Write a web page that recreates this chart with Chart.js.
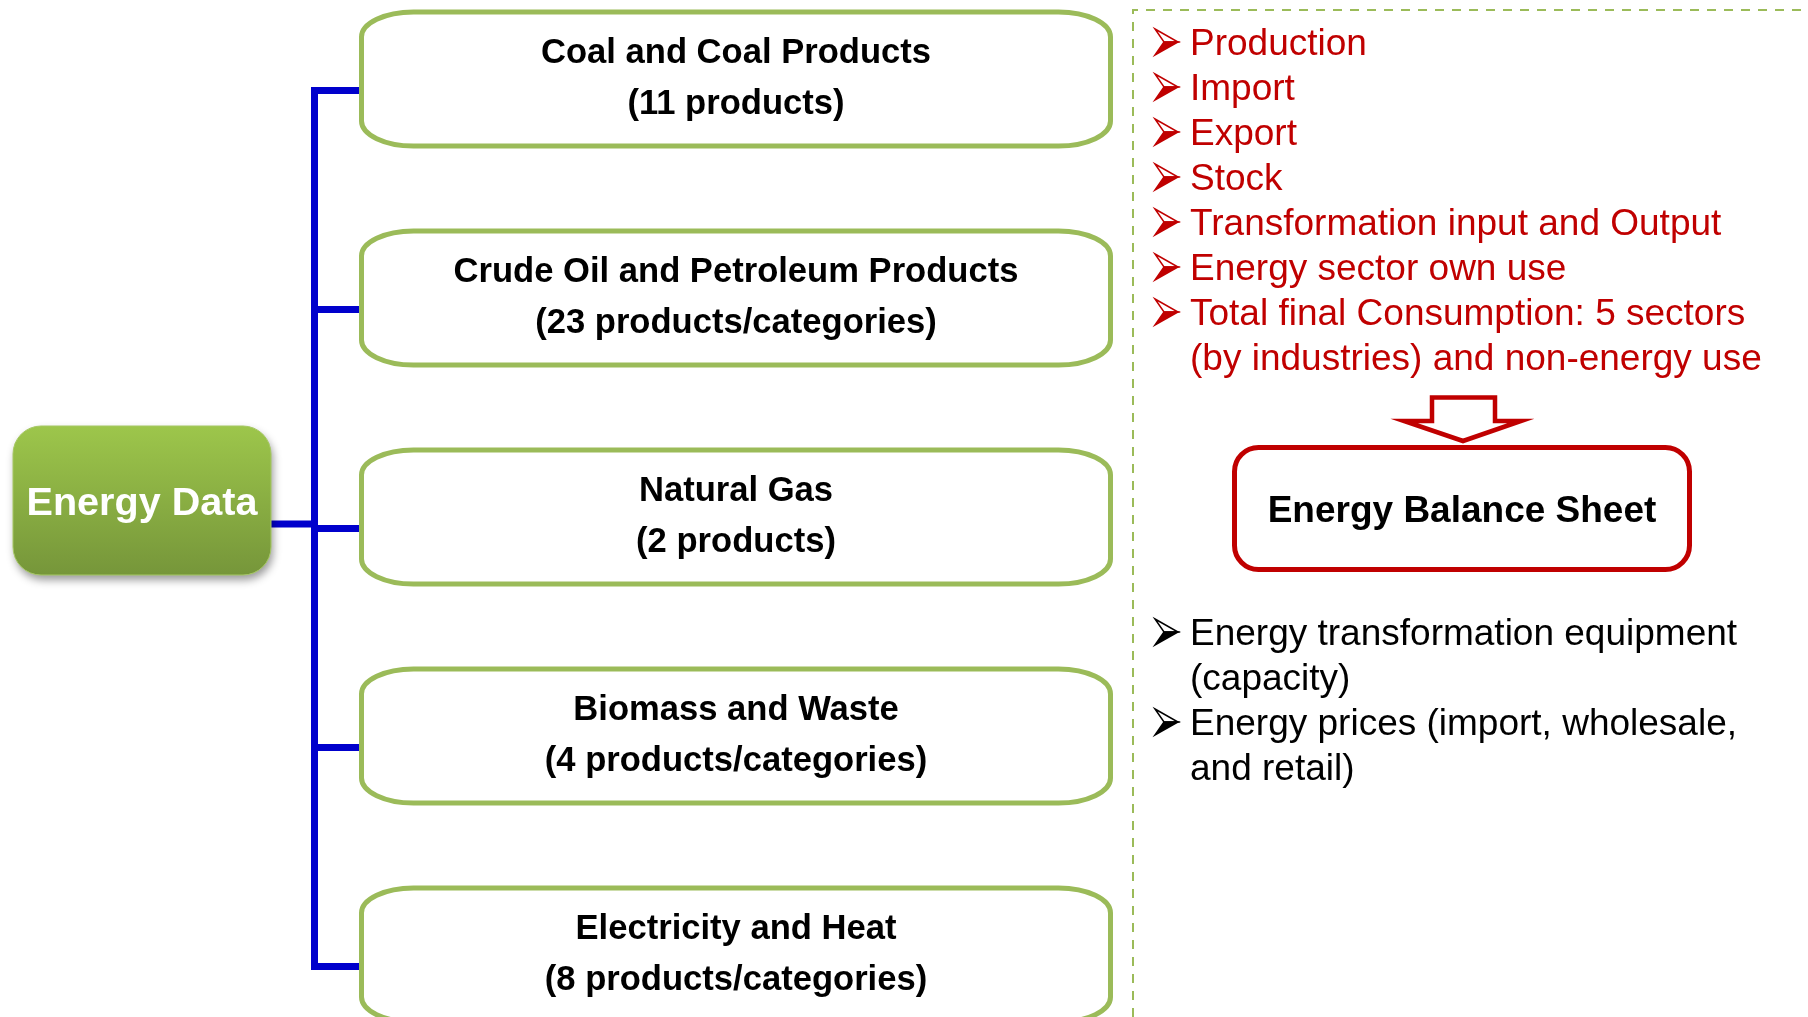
<!DOCTYPE html>
<html>
<head>
<meta charset="utf-8">
<title>Energy Data</title>
<script src="https://cdn.jsdelivr.net/npm/chart.js@4.4.1/dist/chart.umd.min.js"></script>
<style>
  html, body { margin: 0; padding: 0; background: #fff; overflow: hidden; }
  #wrap { width: 1808px; height: 1017px; position: relative; }
</style>
</head>
<body>
<div id="wrap"><canvas id="energyChart"></canvas></div>
<script>
// Energy data categories (left tree)
const rootLabel = 'Energy Data';
const categories = [
    'Coal and Coal Products',
    'Crude Oil and Petroleum Products',
    'Natural Gas',
    'Biomass and Waste',
    'Electricity and Heat'
];
const productCounts = [11, 23, 2, 4, 8];
const countUnits = ['products', 'products/categories', 'products', 'products/categories', 'products/categories'];

// Right panel texts
const flowItems = [
    ['Production'],
    ['Import'],
    ['Export'],
    ['Stock'],
    ['Transformation input and Output'],
    ['Energy sector own use'],
    ['Total final Consumption: 5 sectors', '(by industries) and non-energy use']
];
const targetLabel = 'Energy Balance Sheet';
const extraItems = [
    ['Energy transformation equipment', '(capacity)'],
    ['Energy prices (import, wholesale,', 'and retail)']
];

const FONT = "'Liberation Sans', Arial, sans-serif";
const GREEN = '#9BBB59';
const BLUE = '#0000CC';
const RED = '#C00000';

// rounded box with elliptical corners
function roundBox(ctx, x0, y0, x1, y1, rx, ry) {
    ctx.beginPath();
    ctx.moveTo(x0 + rx, y0);
    ctx.lineTo(x1 - rx, y0);
    ctx.ellipse(x1 - rx, y0 + ry, rx, ry, 0, -Math.PI / 2, 0);
    ctx.lineTo(x1, y1 - ry);
    ctx.ellipse(x1 - rx, y1 - ry, rx, ry, 0, 0, Math.PI / 2);
    ctx.lineTo(x0 + rx, y1);
    ctx.ellipse(x0 + rx, y1 - ry, rx, ry, 0, Math.PI / 2, Math.PI);
    ctx.lineTo(x0, y0 + ry);
    ctx.ellipse(x0 + rx, y0 + ry, rx, ry, 0, Math.PI, Math.PI * 1.5);
    ctx.closePath();
}

// wingdings style arrow bullet
function bullet(ctx, x, y, color) {
    const l = x, r = x + 23, t = y - 13, b = y + 13, n = x + 9;
    ctx.save();
    ctx.fillStyle = color;
    ctx.strokeStyle = color;
    ctx.lineWidth = 1.5;
    ctx.beginPath();
    ctx.moveTo(l, t); ctx.lineTo(r, y); ctx.lineTo(n, y); ctx.closePath();
    ctx.stroke();
    ctx.beginPath();
    ctx.moveTo(n, y); ctx.lineTo(r, y); ctx.lineTo(l, b); ctx.closePath();
    ctx.fill();
    ctx.stroke();
    ctx.restore();
}

const diagramPlugin = {
    id: 'energyDiagram',
    afterDraw(chart) {
        const ctx = chart.ctx;
        const xs = chart.scales.x, ys = chart.scales.y;
        const px = v => xs.getPixelForValue(v);
        const py = v => ys.getPixelForValue(v);

        const rowTop = 79, rowStep = 219, halfH = 67;
        const boxL = 361.5, boxR = 1110.5;
        const trunkX = 314.5;

        ctx.save();

        // blue tree lines
        ctx.strokeStyle = BLUE;
        ctx.lineWidth = 7;
        ctx.lineCap = 'butt';
        const firstBranch = rowTop + 11.5;
        const lastBranch = rowTop + rowStep * (categories.length - 1) + 11.5;
        ctx.beginPath();
        ctx.moveTo(px(trunkX), py(firstBranch - 3.5));
        ctx.lineTo(px(trunkX), py(lastBranch + 3.5));
        ctx.stroke();
        categories.forEach((c, i) => {
            const by = rowTop + rowStep * i + 11.5;
            ctx.beginPath();
            ctx.moveTo(px(trunkX - 3.5), py(by));
            ctx.lineTo(px(boxL), py(by));
            ctx.stroke();
        });
        ctx.beginPath();
        ctx.moveTo(px(268), py(524));
        ctx.lineTo(px(trunkX), py(524));
        ctx.stroke();

        // category boxes
        categories.forEach((c, i) => {
            const cy = rowTop + rowStep * i;
            roundBox(ctx, px(boxL), py(cy - halfH), px(boxR), py(cy + halfH), 52, 25);
            ctx.fillStyle = '#fff';
            ctx.fill();
            ctx.strokeStyle = GREEN;
            ctx.lineWidth = 5;
            ctx.stroke();
            ctx.fillStyle = '#000';
            ctx.textAlign = 'center';
            ctx.textBaseline = 'alphabetic';
            ctx.font = 'bold 34.6px ' + FONT;
            const cx = (boxL + boxR) / 2;
            ctx.fillText(c, px(cx), py(cy - 16));
            ctx.fillText('(' + productCounts[i] + ' ' + countUnits[i] + ')', px(cx), py(cy + 35));
        });

        // root box
        ctx.save();
        ctx.shadowColor = 'rgba(0,0,0,0.4)';
        ctx.shadowBlur = 8;
        ctx.shadowOffsetX = 2;
        ctx.shadowOffsetY = 5;
        roundBox(ctx, px(13), py(426), px(271), py(575), 28, 28);
        const grad = ctx.createLinearGradient(0, py(426), 0, py(575));
        grad.addColorStop(0, '#9DC64B');
        grad.addColorStop(1, '#76963A');
        ctx.fillStyle = grad;
        ctx.fill();
        ctx.restore();
        roundBox(ctx, px(13), py(426), px(271), py(575), 28, 28);
        ctx.strokeStyle = '#A6C864';
        ctx.lineWidth = 1;
        ctx.stroke();
        ctx.fillStyle = '#fff';
        ctx.font = 'bold 39.6px ' + FONT;
        ctx.textAlign = 'center';
        ctx.fillText(rootLabel, px(142), py(515));

        // dashed panel border
        ctx.save();
        ctx.setLineDash([9, 8]);
        ctx.strokeStyle = GREEN;
        ctx.lineWidth = 2;
        ctx.beginPath();
        ctx.moveTo(px(1133), py(1017));
        ctx.lineTo(px(1133), py(10));
        ctx.lineTo(px(1808), py(10));
        ctx.stroke();
        ctx.restore();

        // lists
        const drawList = (items, startBase, color) => {
            let k = 0;
            ctx.font = '37px ' + FONT;
            ctx.textAlign = 'left';
            items.forEach(lines => {
                lines.forEach((ln, j) => {
                    const base = startBase + 45 * k;
                    if (j === 0) bullet(ctx, px(1155), py(base - 13), color);
                    ctx.fillStyle = color;
                    ctx.fillText(ln, px(1190), py(base));
                    k++;
                });
            });
        };
        drawList(flowItems, 55, RED);
        drawList(extraItems, 645, '#000');

        // hollow down arrow
        ctx.beginPath();
        ctx.moveTo(px(1432), py(397.5));
        ctx.lineTo(px(1495), py(397.5));
        ctx.lineTo(px(1495), py(421));
        ctx.lineTo(px(1521), py(421));
        ctx.lineTo(px(1463), py(441));
        ctx.lineTo(px(1404), py(421));
        ctx.lineTo(px(1432), py(421));
        ctx.closePath();
        ctx.fillStyle = '#fff';
        ctx.fill();
        ctx.strokeStyle = RED;
        ctx.lineWidth = 4.5;
        ctx.lineJoin = 'miter';
        ctx.stroke();

        // balance sheet box
        roundBox(ctx, px(1234.5), py(447.5), px(1689.5), py(569.5), 24, 24);
        ctx.fillStyle = '#fff';
        ctx.fill();
        ctx.strokeStyle = RED;
        ctx.lineWidth = 5;
        ctx.stroke();
        ctx.fillStyle = '#000';
        ctx.font = 'bold 37px ' + FONT;
        ctx.textAlign = 'center';
        ctx.fillText(targetLabel, px(1462), py(522));

        ctx.restore();
    }
};

const ctx1 = document.getElementById('energyChart').getContext('2d');
const energyChart = new Chart(ctx1, {
    type: 'scatter',
    data: { datasets: [] },
    options: {
        responsive: true,
        maintainAspectRatio: false,
        animation: false,
        layout: { padding: 0 },
        scales: {
            x: { type: 'linear', min: 0, max: 1808, display: false },
            y: { type: 'linear', min: 0, max: 1017, reverse: true, display: false }
        },
        plugins: {
            legend: { display: false },
            tooltip: { enabled: false }
        }
    },
    plugins: [diagramPlugin]
});
</script>
</body>
</html>
